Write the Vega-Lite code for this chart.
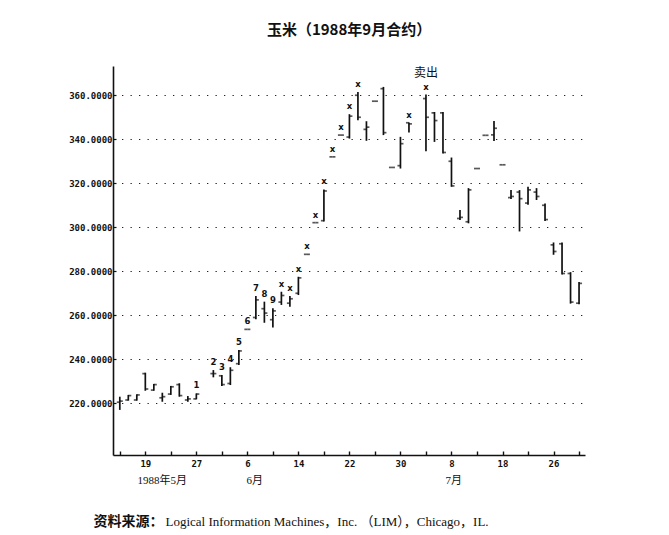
{
  "$schema": "https://vega.github.io/schema/vega-lite/v6.json",
  "description": "Corn, September 1988 contract: daily high-low bars with open/close ticks.",
  "autosize": "none",
  "padding": {"left": 113, "top": 66, "right": 84, "bottom": 80},
  "width": 472,
  "height": 389,
  "background": "white",
  "title": {
    "text": "玉米（1988年9月合约）",
    "font": "Noto Sans CJK SC",
    "fontSize": 15,
    "fontWeight": "bold",
    "color": "#111",
    "anchor": "middle",
    "frame": "group",
    "baseline": "bottom",
    "offset": 13
  },
  "data": {
    "values": [
      {"date": "1988-05-16", "day": 0, "open": 220.5, "high": 223.0, "low": 217.0, "close": 221.0},
      {"date": "1988-05-17", "day": 1, "open": 221.5, "high": 223.8, "low": 221.2, "close": 223.5},
      {"date": "1988-05-18", "day": 2, "open": 221.5, "high": 224.1, "low": 221.2, "close": 223.8},
      {"date": "1988-05-19", "day": 3, "open": 233.5, "high": 233.9, "low": 225.7, "close": 226.5},
      {"date": "1988-05-20", "day": 4, "open": 226.0, "high": 228.8, "low": 225.7, "close": 228.5},
      {"date": "1988-05-23", "day": 5, "open": 222.5, "high": 224.8, "low": 220.7, "close": 223.0},
      {"date": "1988-05-24", "day": 6, "open": 224.2, "high": 227.9, "low": 223.8, "close": 227.5},
      {"date": "1988-05-25", "day": 7, "open": 228.5, "high": 229.1, "low": 223.0, "close": 223.5},
      {"date": "1988-05-26", "day": 8, "open": 221.5, "high": 223.3, "low": 220.7, "close": 222.0},
      {"date": "1988-05-27", "day": 9, "open": 222.0, "high": 224.5, "low": 221.8, "close": 224.2, "mark": "1"},
      {"date": "1988-05-31", "day": 11, "open": 233.5, "high": 235.1, "low": 231.8, "close": 233.5, "mark": "2"},
      {"date": "1988-06-01", "day": 12, "open": 232.5, "high": 232.9, "low": 227.9, "close": 228.5, "mark": "3"},
      {"date": "1988-06-02", "day": 13, "open": 229.0, "high": 236.4, "low": 228.3, "close": 235.0, "mark": "4"},
      {"date": "1988-06-03", "day": 14, "open": 238.0, "high": 244.2, "low": 237.4, "close": 243.8, "mark": "5"},
      {"date": "1988-06-06", "day": 15, "open": 253.6, "high": 253.6, "low": 253.6, "close": 253.6, "mark": "6"},
      {"date": "1988-06-07", "day": 16, "open": 259.0, "high": 268.8, "low": 258.2, "close": 267.0, "mark": "7"},
      {"date": "1988-06-08", "day": 17, "open": 263.0, "high": 266.2, "low": 256.6, "close": 261.0, "mark": "8"},
      {"date": "1988-06-09", "day": 18, "open": 258.0, "high": 263.2, "low": 254.5, "close": 262.0, "mark": "9"},
      {"date": "1988-06-10", "day": 19, "open": 266.0, "high": 270.7, "low": 264.7, "close": 269.0, "mark": "x"},
      {"date": "1988-06-13", "day": 20, "open": 265.5, "high": 268.8, "low": 263.9, "close": 267.5, "mark": "x"},
      {"date": "1988-06-14", "day": 21, "open": 270.0, "high": 277.5, "low": 269.2, "close": 277.0, "mark": "x"},
      {"date": "1988-06-15", "day": 22, "open": 287.7, "high": 287.7, "low": 287.7, "close": 287.7, "mark": "x"},
      {"date": "1988-06-16", "day": 23, "open": 302.1, "high": 302.1, "low": 302.1, "close": 302.1, "mark": "x"},
      {"date": "1988-06-17", "day": 24, "open": 303.0, "high": 317.2, "low": 302.6, "close": 316.5, "mark": "x"},
      {"date": "1988-06-20", "day": 25, "open": 332.0, "high": 332.0, "low": 332.0, "close": 332.0, "mark": "x"},
      {"date": "1988-06-21", "day": 26, "open": 341.9, "high": 341.9, "low": 341.9, "close": 341.9, "mark": "x"},
      {"date": "1988-06-22", "day": 27, "open": 341.0, "high": 351.4, "low": 340.3, "close": 350.5, "mark": "x"},
      {"date": "1988-06-23", "day": 28, "open": 360.0, "high": 361.5, "low": 348.7, "close": 350.0, "mark": "x"},
      {"date": "1988-06-24", "day": 29, "open": 344.5, "high": 348.2, "low": 339.3, "close": 345.5},
      {"date": "1988-06-27", "day": 30, "open": 357.3, "high": 357.3, "low": 357.3, "close": 357.3},
      {"date": "1988-06-28", "day": 31, "open": 363.0, "high": 363.8, "low": 341.9, "close": 343.0},
      {"date": "1988-06-29", "day": 32, "open": 327.2, "high": 327.2, "low": 327.2, "close": 327.2},
      {"date": "1988-06-30", "day": 33, "open": 328.0, "high": 341.1, "low": 326.7, "close": 338.0},
      {"date": "1988-07-01", "day": 34, "open": 347.5, "high": 347.6, "low": 343.1, "close": 347.0, "mark": "x"},
      {"date": "1988-07-05", "day": 36, "open": 358.5, "high": 360.3, "low": 334.6, "close": 350.0, "mark": "x", "note": "卖出"},
      {"date": "1988-07-06", "day": 37, "open": 352.0, "high": 352.4, "low": 338.8, "close": 348.5},
      {"date": "1988-07-07", "day": 38, "open": 352.0, "high": 352.4, "low": 333.5, "close": 334.0},
      {"date": "1988-07-08", "day": 39, "open": 330.0, "high": 331.7, "low": 318.4, "close": 318.8},
      {"date": "1988-07-11", "day": 40, "open": 304.0, "high": 307.8, "low": 303.3, "close": 304.5},
      {"date": "1988-07-12", "day": 41, "open": 302.5, "high": 317.8, "low": 301.8, "close": 317.0},
      {"date": "1988-07-13", "day": 42, "open": 326.7, "high": 326.7, "low": 326.7, "close": 326.7},
      {"date": "1988-07-14", "day": 43, "open": 341.8, "high": 341.8, "low": 341.8, "close": 341.8},
      {"date": "1988-07-15", "day": 44, "open": 342.0, "high": 348.3, "low": 339.2, "close": 345.0},
      {"date": "1988-07-18", "day": 45, "open": 328.4, "high": 328.4, "low": 328.4, "close": 328.4},
      {"date": "1988-07-19", "day": 46, "open": 313.5, "high": 316.9, "low": 312.8, "close": 314.0},
      {"date": "1988-07-20", "day": 47, "open": 316.0, "high": 316.9, "low": 298.1, "close": 313.0},
      {"date": "1988-07-21", "day": 48, "open": 311.0, "high": 318.4, "low": 310.2, "close": 317.0},
      {"date": "1988-07-22", "day": 49, "open": 316.0, "high": 317.8, "low": 312.4, "close": 314.0},
      {"date": "1988-07-25", "day": 50, "open": 310.0, "high": 310.8, "low": 302.9, "close": 303.5},
      {"date": "1988-07-26", "day": 51, "open": 292.0, "high": 293.1, "low": 287.5, "close": 289.0},
      {"date": "1988-07-27", "day": 52, "open": 292.5, "high": 293.1, "low": 278.5, "close": 279.0},
      {"date": "1988-07-28", "day": 53, "open": 279.0, "high": 279.6, "low": 265.3, "close": 266.0},
      {"date": "1988-07-29", "day": 54, "open": 265.5, "high": 275.1, "low": 265.0, "close": 274.5}
    ]
  },
  "resolve": {"axis": {"x": "independent"}},
  "layer": [
    {
      "mark": {"type": "rule", "color": "#111", "strokeWidth": 1.7},
      "encoding": {
        "x": {
          "field": "day",
          "type": "quantitative",
          "scale": {"domain": [-0.8, 54.7], "nice": false, "zero": false},
          "axis": {
            "orient": "bottom",
            "title": null,
            "grid": false,
            "values": [0, 3, 6, 9, 12, 15, 18, 21, 24, 27, 30, 33, 36, 39, 42, 45, 48, 51, 54],
            "labelExpr": "datum.value==3?'19':datum.value==9?'27':datum.value==15?'6':datum.value==21?'14':datum.value==27?'22':datum.value==33?'30':datum.value==39?'8':datum.value==45?'18':datum.value==51?'26':''",
            "domainColor": "#111",
            "domainWidth": 1.6,
            "tickColor": "#111",
            "tickWidth": 1.4,
            "tickSize": -4,
            "labelPadding": 8,
            "labelFont": "DejaVu Sans Mono",
            "labelFontWeight": "bold",
            "labelFontSize": 9,
            "labelColor": "#111"
          }
        },
        "y": {
          "field": "low",
          "type": "quantitative",
          "title": null,
          "scale": {"domain": [196.5, 373.3], "nice": false, "zero": false},
          "axis": {
            "values": [220, 240, 260, 280, 300, 320, 340, 360],
            "format": ".4f",
            "grid": true,
            "gridDash": [1.3, 7.2],
            "gridColor": "#222",
            "gridWidth": 1.2,
            "domainColor": "#111",
            "domainWidth": 1.6,
            "tickColor": "#111",
            "tickWidth": 1.2,
            "tickSize": -3,
            "labelPadding": 4,
            "labelFont": "DejaVu Sans Mono",
            "labelFontWeight": "bold",
            "labelFontSize": 9,
            "labelColor": "#111"
          }
        },
        "y2": {"field": "high"}
      }
    },
    {
      "mark": {"type": "tick", "orient": "horizontal", "color": "#111", "size": 3, "thickness": 1.7, "xOffset": -1.5},
      "encoding": {
        "x": {
          "field": "day",
          "type": "quantitative",
          "axis": {
            "orient": "bottom",
            "domain": false,
            "ticks": false,
            "grid": false,
            "values": [4.94, 15.8, 39.2],
            "labelExpr": "datum.value<10?'1988年5月':datum.value<30?'6月':'7月'",
            "labelFont": "Liberation Serif, Noto Sans CJK SC",
            "labelFontSize": 11,
            "labelColor": "#111",
            "labelPadding": 19,
            "title": "资料来源：",
            "titleFont": "Noto Sans CJK SC",
            "titleFontWeight": "bold",
            "titleFontSize": 14,
            "titleColor": "#111",
            "titleAnchor": "start",
            "titleAlign": "left",
            "titleBaseline": "middle",
            "titleX": -20,
            "titleY": 66
          }
        },
        "y": {"field": "open", "type": "quantitative", "title": null}
      }
    },
    {
      "mark": {"type": "tick", "orient": "horizontal", "color": "#111", "size": 3, "thickness": 1.7, "xOffset": 1.5},
      "encoding": {
        "x": {
          "field": "day",
          "type": "quantitative",
          "axis": {
            "orient": "bottom",
            "domain": false,
            "ticks": false,
            "labels": false,
            "grid": false,
            "title": "Logical Information Machines，Inc. （LIM），Chicago，IL.",
            "titleFont": "Liberation Serif, Noto Sans CJK SC",
            "titleFontWeight": "normal",
            "titleFontSize": 13,
            "titleColor": "#111",
            "titleAnchor": "start",
            "titleAlign": "left",
            "titleBaseline": "middle",
            "titleX": 52,
            "titleY": 66
          }
        },
        "y": {"field": "close", "type": "quantitative", "title": null}
      }
    },
    {
      "transform": [{"filter": "isValid(datum.mark)"}],
      "mark": {"type": "text", "font": "DejaVu Sans", "fontWeight": "bold", "fontSize": 8.5, "baseline": "bottom", "dy": -3, "color": "#111"},
      "encoding": {
        "x": {"field": "day", "type": "quantitative", "axis": null},
        "y": {"field": "high", "type": "quantitative", "title": null},
        "text": {"field": "mark", "type": "nominal"}
      }
    },
    {
      "transform": [{"filter": "isValid(datum.note)"}],
      "mark": {"type": "text", "font": "Noto Sans CJK SC", "fontSize": 12, "baseline": "bottom", "dy": -15, "color": "#111"},
      "encoding": {
        "x": {"field": "day", "type": "quantitative", "axis": null},
        "y": {"field": "high", "type": "quantitative", "title": null},
        "text": {"field": "note", "type": "nominal"}
      }
    }
  ],
  "config": {
    "view": {"stroke": null},
    "axis": {"labelFlush": false, "labelOverlap": false}
  }
}
